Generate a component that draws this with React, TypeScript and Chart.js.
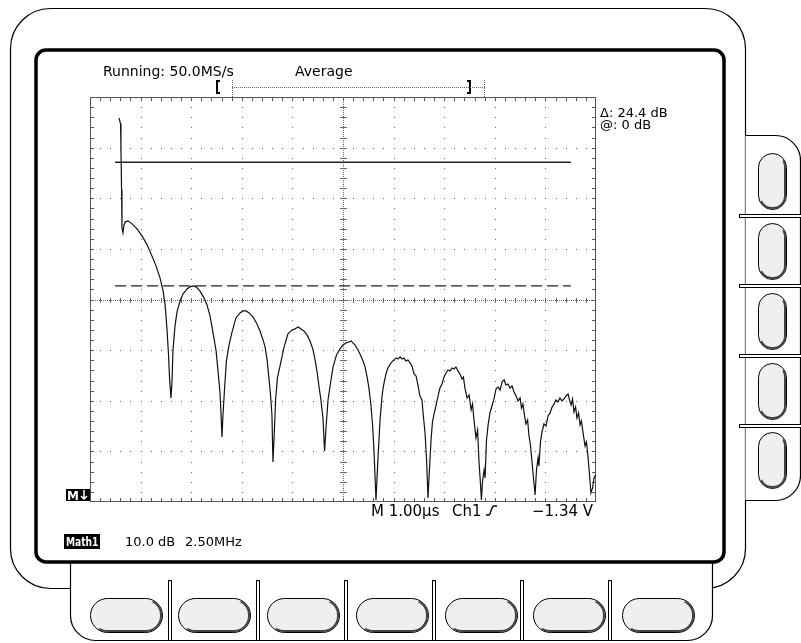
import React, { useEffect, useRef } from "react";
import { Chart, registerables } from "chart.js";

Chart.register(...registerables);

const traceMHz = [
  1.43, 1.51, 1.53, 1.56, 1.58, 1.63, 1.68, 1.75, 1.88, 2.08, 2.32, 2.57, 2.82, 3.06, 3.26, 3.46, 3.61, 3.71, 3.8, 3.88, 3.93, 4.0,
  4.05, 4.1, 4.2, 4.3, 4.45, 4.6, 4.79, 4.94, 5.09, 5.24, 5.43, 5.63, 5.78, 5.93, 6.08, 6.23, 6.32, 6.42, 6.47, 6.52,
  6.57, 6.65, 6.74, 6.87, 7.02, 7.21, 7.41, 7.56, 7.71, 7.86, 8.05, 8.25, 8.4, 8.55, 8.65, 8.75, 8.84, 8.92, 8.99, 9.04,
  9.09, 9.17, 9.26, 9.39, 9.59, 9.78, 9.98, 10.13, 10.28, 10.43, 10.57, 10.72, 10.87, 11.02, 11.12, 11.22, 11.31, 11.41, 11.51, 11.59,
  11.66, 11.76, 11.86, 12.01, 12.18, 12.35, 12.5, 12.65, 12.8, 12.9, 12.99, 13.09, 13.24, 13.34, 13.49, 13.59, 13.69, 13.78, 13.88, 13.96, 14.03, 14.08, 14.13,
  14.18, 14.25, 14.33, 14.43, 14.5, 14.62, 14.72, 14.87, 15.02, 15.12, 15.22, 15.32, 15.42, 15.51, 15.61, 15.71, 15.81, 15.91, 16.01, 16.11, 16.21, 16.3, 16.4, 16.48, 16.55, 16.63, 16.7,
  16.77, 16.85, 16.92, 17.0, 17.1, 17.19, 17.29, 17.39, 17.49, 17.59, 17.69, 17.79, 17.89, 17.99, 18.08, 18.18, 18.28, 18.38, 18.45, 18.53, 18.63, 18.73, 18.83, 18.9, 18.97, 19.07, 19.15, 19.22, 19.29, 19.34,
  19.39, 19.47, 19.52, 19.59, 19.67, 19.76, 19.86, 19.96, 20.06, 20.16, 20.26, 20.36, 20.46, 20.55, 20.65, 20.75, 20.85, 20.95, 21.05, 21.15, 21.25, 21.32, 21.39, 21.47, 21.54, 21.62, 21.69, 21.76, 21.84, 21.91, 21.99,
  22.06, 22.14, 22.18, 22.26, 22.33, 22.43, 22.53, 22.63, 22.73, 22.83, 22.93, 23.02, 23.12, 23.22, 23.32, 23.42, 23.52, 23.62, 23.69, 23.77, 23.84, 23.91, 23.99, 24.06, 24.14, 24.21, 24.28, 24.36, 24.46, 24.53, 24.61, 24.68, 24.75, 24.83, 24.9, 24.98,
];

const traceDb = [
  75.89, 74.7, 69.56, 61.66, 54.15, 53.16, 54.74, 55.34, 55.53, 54.94, 53.95, 52.57, 50.79, 48.62, 46.64, 44.27, 41.7, 38.93, 34.39, 29.05, 24.51, 20.55,
  23.72, 30.04, 34.78, 37.55, 39.72, 41.11, 42.09, 42.49, 42.69, 42.49, 41.7, 40.32, 38.93, 36.76, 33.4, 29.84, 26.09, 21.74, 17.79, 12.85,
  17.19, 22.53, 27.87, 31.03, 33.6, 36.36, 37.35, 37.75, 37.75, 37.35, 36.56, 35.18, 33.79, 32.02, 30.63, 28.06, 24.51, 21.15, 17.19, 7.91,
  12.25, 20.16, 24.51, 26.88, 30.63, 33.2, 33.99, 34.19, 34.59, 34.19, 33.79, 33.0, 31.82, 30.04, 28.06, 25.69, 22.92, 20.16, 16.6, 10.08,
  14.62, 20.16, 22.92, 26.68, 29.05, 30.24, 31.03, 31.42, 31.62, 31.82, 31.42, 31.03, 30.04, 29.25, 27.87, 26.68, 24.7, 22.53, 19.17, 15.22, 10.28, 5.34, 0.4,
  4.74, 10.28, 16.21, 20.95, 22.92, 25.3, 26.48, 27.47, 28.06, 28.46, 28.26, 28.66, 28.26, 28.46, 27.87, 28.06, 27.47, 26.88, 25.3, 24.9, 22.92, 20.95, 20.16, 16.6, 13.83, 8.3, 0.79,
  6.32, 12.25, 15.81, 17.39, 19.17, 20.75, 22.53, 23.32, 24.7, 25.49, 26.09, 25.89, 26.48, 26.28, 26.68, 25.89, 25.3, 24.31, 24.7, 22.33, 20.55, 21.15, 18.18, 19.37, 16.21, 12.65, 14.23, 7.91, 3.75, 0.4,
  3.95, 6.32, 4.74, 12.25, 15.22, 17.59, 18.97, 20.36, 22.33, 22.73, 22.13, 23.72, 24.11, 23.12, 23.32, 22.53, 22.92, 21.74, 20.95, 19.96, 20.55, 18.58, 19.37, 17.0, 15.42, 16.21, 13.04, 11.26, 7.91, 4.74, 1.38,
  6.32, 8.7, 7.11, 12.06, 13.83, 15.42, 15.02, 17.0, 17.59, 18.77, 19.37, 20.16, 19.76, 20.55, 19.96, 20.36, 20.95, 21.34, 20.16, 19.17, 20.36, 17.79, 18.77, 16.6, 17.59, 15.22, 16.01, 13.64, 11.07, 11.86, 8.7, 5.34, 1.78, 2.77, 4.74, 5.34,
];

const cursorLevelsDb = [67.1, 42.7]; // solid, dashed
const cursorSpanMHz = [1.24, 23.76];
const xRangeMHz = [0, 25];
const yRangeDb = [0, 80];
const xDivisionMHz = 2.5;
const yDivisionDb = 10;

const headerLabels = ["Running: 50.0MS/s", "Average"];
const readoutLabels = ["\u0394: 24.4 dB", "@: 0 dB"];
const timebaseLabels = ["M 1.00\u00b5s", "Ch1", "\u22121.34 V"];
const mathLabels = ["Math1", "10.0 dB", "2.50MHz"];

const FONT = '"DejaVu Sans", "Noto Sans", sans-serif';

function pill(ctx: CanvasRenderingContext2D, x: number, y: number, w: number, h: number) {
  const r = Math.min(w, h) / 2;
  ctx.beginPath();
  ctx.roundRect(x + 0.5, y + 0.5, w, h, r);
  ctx.fillStyle = "#efefef";
  ctx.fill();
  ctx.strokeStyle = "#000";
  ctx.lineWidth = 1;
  ctx.stroke();
  // shadow on the bottom-right side
  ctx.save();
  ctx.beginPath();
  ctx.moveTo(x + w + 2, y - 2);
  ctx.lineTo(x + w + 2, y + h + 2);
  ctx.lineTo(x - 2, y + h + 2);
  ctx.closePath();
  ctx.clip();
  ctx.beginPath();
  ctx.roundRect(x + 2, y + 2, w - 3, h - 3, r - 2);
  ctx.strokeStyle = "#444";
  ctx.lineWidth = 2;
  ctx.stroke();
  ctx.restore();
}

const bezelPlugin = {
  id: "bezel",
  beforeDraw(chart: any) {
    const ctx: CanvasRenderingContext2D = chart.ctx;
    ctx.save();
    ctx.fillStyle = "#fff";
    ctx.fillRect(0, 0, chart.width, chart.height);
    ctx.strokeStyle = "#000";
    ctx.lineWidth = 1.2;

    // outer bezel
    ctx.beginPath();
    ctx.roundRect(10.5, 8.5, 735, 580, 40);
    ctx.stroke();

    // bottom button panel
    const bp = () => {
      ctx.beginPath();
      ctx.moveTo(70.5, 560);
      ctx.lineTo(70.5, 615);
      ctx.arcTo(70.5, 640.5, 96, 640.5, 25);
      ctx.lineTo(687, 640.5);
      ctx.arcTo(712.5, 640.5, 712.5, 615, 25);
      ctx.lineTo(712.5, 560);
    };
    bp();
    ctx.closePath();
    ctx.fillStyle = "#fff";
    ctx.fill();
    bp();
    ctx.stroke();
    [168, 256, 344, 432, 520, 608].forEach((x) => {
      ctx.fillStyle = "#fff";
      ctx.fillRect(x, 580, 4, 61);
      ctx.lineWidth = 1;
      ctx.strokeRect(x + 0.5, 580.5, 3, 60);
    });

    // right button panel
    const rp = () => {
      ctx.beginPath();
      ctx.moveTo(745.5, 135.5);
      ctx.lineTo(775, 135.5);
      ctx.arcTo(800.5, 135.5, 800.5, 161, 25);
      ctx.lineTo(800.5, 475);
      ctx.arcTo(800.5, 500.5, 775, 500.5, 25);
      ctx.lineTo(745.5, 500.5);
    };
    rp();
    ctx.closePath();
    ctx.fillStyle = "#fff";
    ctx.fill();
    rp();
    ctx.lineWidth = 1.2;
    ctx.stroke();
    [214, 284, 354, 424].forEach((y) => {
      ctx.fillStyle = "#fff";
      ctx.fillRect(739, y, 62, 4);
      ctx.lineWidth = 1;
      ctx.strokeRect(739.5, y + 0.5, 62, 3);
    });

    // buttons
    [153, 223, 293, 363, 432].forEach((y) => pill(ctx, 758, y, 28, 56));
    [90, 178, 267, 356, 445, 533, 622].forEach((x) => pill(ctx, x, 598, 72, 34));

    // screen
    ctx.beginPath();
    ctx.roundRect(36, 50, 688, 512, 10);
    ctx.fillStyle = "#fff";
    ctx.fill();
    ctx.lineWidth = 3.5;
    ctx.strokeStyle = "#000";
    ctx.stroke();
    ctx.restore();
  },
};

const graticulePlugin = {
  id: "graticule",
  beforeDatasetsDraw(chart: any) {
    const ctx: CanvasRenderingContext2D = chart.ctx;
    const xs = chart.scales.x;
    const ys = chart.scales.y;
    const { left, right, top, bottom } = chart.chartArea;
    const px = (v: number) => Math.round(xs.getPixelForValue(v));
    const py = (v: number) => Math.round(ys.getPixelForValue(v));
    ctx.save();
    ctx.strokeStyle = "#555";
    ctx.lineWidth = 1;
    ctx.strokeRect(Math.round(left) + 0.5, Math.round(top) + 0.5, Math.round(right - left) - 1, Math.round(bottom - top) - 1);

    const xMinor = xDivisionMHz / 5;
    const yMinor = yDivisionDb / 5;
    const nx = Math.round((xRangeMHz[1] - xRangeMHz[0]) / xMinor);
    const ny = Math.round((yRangeDb[1] - yRangeDb[0]) / yMinor);
    const cx = (xRangeMHz[0] + xRangeMHz[1]) / 2;
    const cy = (yRangeDb[0] + yRangeDb[1]) / 2;
    const xc = px(cx);
    const yc = py(cy);

    ctx.fillStyle = "#555";
    // edge ticks
    for (let i = 1; i < nx; i++) {
      const x = px(xRangeMHz[0] + i * xMinor);
      ctx.fillRect(x, Math.round(top), 1, 4);
      ctx.fillRect(x, Math.round(bottom) - 4, 1, 4);
    }
    for (let j = 1; j < ny; j++) {
      const y = py(yRangeDb[0] + j * yMinor);
      ctx.fillRect(Math.round(left), y, 4, 1);
      ctx.fillRect(Math.round(right) - 4, y, 4, 1);
    }
    ctx.fillStyle = "#666";
    // dotted major lines
    for (let k = 1; k < 10; k++) {
      const v = xRangeMHz[0] + k * xDivisionMHz;
      if (Math.abs(v - cx) < 1e-6) continue;
      const x = px(v);
      for (let j = 1; j < ny; j++) ctx.fillRect(x, py(yRangeDb[0] + j * yMinor), 1, 1);
    }
    for (let k = 1; k < 8; k++) {
      const v = yRangeDb[0] + k * yDivisionDb;
      if (Math.abs(v - cy) < 1e-6) continue;
      const y = py(v);
      for (let i = 1; i < nx; i++) ctx.fillRect(px(xRangeMHz[0] + i * xMinor), y, 1, 1);
    }
    // center cross
    ctx.fillStyle = "#666";
    for (let y = Math.round(top) + 1; y < bottom; y += 2) ctx.fillRect(xc, y, 1, 1);
    for (let x = Math.round(left) + 1; x < right; x += 2) ctx.fillRect(x, yc, 1, 1);
    for (let j = 1; j < ny; j++) ctx.fillRect(xc - 3, py(yRangeDb[0] + j * yMinor), 7, 1);
    for (let i = 1; i < nx; i++) ctx.fillRect(px(xRangeMHz[0] + i * xMinor), yc - 2, 1, 5);
    ctx.restore();
  },
};

const textPlugin = {
  id: "screenText",
  afterDraw(chart: any) {
    const ctx: CanvasRenderingContext2D = chart.ctx;
    const { left, right, top, bottom } = chart.chartArea;
    ctx.save();
    ctx.fillStyle = "#000";
    ctx.textBaseline = "alphabetic";
    ctx.font = `14px ${FONT}`;
    ctx.fillText(headerLabels[0], 103, 76);
    ctx.fillText(headerLabels[1], 295, 76);

    // record-view bracket
    ctx.strokeStyle = "#000";
    ctx.lineWidth = 2;
    ctx.beginPath();
    ctx.moveTo(220, 81); ctx.lineTo(217, 81); ctx.lineTo(217, 93); ctx.lineTo(220, 93);
    ctx.moveTo(467, 81); ctx.lineTo(470, 81); ctx.lineTo(470, 93); ctx.lineTo(467, 93);
    ctx.stroke();
    ctx.fillStyle = "#666";
    for (let x = 232; x <= 484; x += 2) ctx.fillRect(x, 87, 1, 1);
    for (let y = 80; y <= 96; y += 2) {
      ctx.fillRect(232, y, 1, 1);
      ctx.fillRect(484, y, 1, 1);
    }

    // cursor readout
    ctx.fillStyle = "#000";
    ctx.font = `13px ${FONT}`;
    ctx.fillText(readoutLabels[0], right + 4, top + 20);
    ctx.fillText(readoutLabels[1], right + 4, top + 32);

    // timebase readout under graticule
    const base = bottom + 14;
    ctx.font = `15px ${FONT}`;
    ctx.fillText(timebaseLabels[0], 371, base);
    ctx.fillText(timebaseLabels[1], 452, base);
    ctx.lineWidth = 1.4;
    ctx.strokeStyle = "#000";
    ctx.beginPath();
    ctx.moveTo(486, base - 1); ctx.lineTo(489, base - 1);
    ctx.bezierCurveTo(491, base - 1, 491, base - 10, 494, base - 10);
    ctx.lineTo(497, base - 10);
    ctx.stroke();
    ctx.textAlign = "right";
    ctx.fillText(timebaseLabels[2], right - 3, base);
    ctx.textAlign = "left";

    // M marker
    ctx.fillStyle = "#000";
    ctx.fillRect(left - 24, bottom - 13, 24, 12);
    ctx.fillStyle = "#fff";
    ctx.font = `bold 12px ${FONT}`;
    ctx.fillText("M", left - 23, bottom - 2);
    ctx.strokeStyle = "#fff";
    ctx.lineWidth = 1.5;
    ctx.beginPath();
    ctx.moveTo(left - 6, bottom - 12); ctx.lineTo(left - 6, bottom - 3);
    ctx.moveTo(left - 9, bottom - 6); ctx.lineTo(left - 6, bottom - 3); ctx.lineTo(left - 3, bottom - 6);
    ctx.stroke();

    // math readout
    ctx.fillStyle = "#000";
    ctx.fillRect(64, 534, 36, 15);
    ctx.fillStyle = "#fff";
    ctx.font = `bold 12px ${FONT}`;
    ctx.save();
    ctx.translate(66, 546);
    ctx.scale(0.76, 1);
    ctx.fillText(mathLabels[0], 0, 0);
    ctx.restore();
    ctx.fillStyle = "#000";
    ctx.font = `13px ${FONT}`;
    ctx.fillText(mathLabels[1], 125, 546);
    ctx.fillText(mathLabels[2], 185, 546);
    ctx.restore();
  },
};

export default function App() {
  const canvasRef = useRef<HTMLCanvasElement | null>(null);

  useEffect(() => {
    document.body.style.margin = "0";
    const canvas = canvasRef.current;
    if (!canvas) return;
    const trace = traceMHz.map((f, i) => ({ x: f, y: traceDb[i] }));
    const chart = new Chart(canvas, {
      type: "line",
      data: {
        datasets: [
          {
            label: "Math1",
            data: trace,
            borderColor: "#111",
            borderWidth: 1.2,
            pointRadius: 0,
            tension: 0,
            fill: false,
          },
          {
            label: "cursor A",
            data: cursorSpanMHz.map((f) => ({ x: f, y: cursorLevelsDb[0] })),
            borderColor: "#222",
            borderWidth: 1.4,
            pointRadius: 0,
          },
          {
            label: "cursor B",
            data: cursorSpanMHz.map((f) => ({ x: f, y: cursorLevelsDb[1] })),
            borderColor: "#222",
            borderWidth: 1.4,
            borderDash: [11, 5],
            pointRadius: 0,
          },
        ],
      },
      options: {
        animation: false,
        responsive: false,
        devicePixelRatio: 1,
        layout: { padding: { left: 90, top: 97, right: 205, bottom: 141 } },
        plugins: { legend: { display: false }, tooltip: { enabled: false } },
        scales: {
          x: { type: "linear", min: xRangeMHz[0], max: xRangeMHz[1], display: false },
          y: { type: "linear", min: yRangeDb[0], max: yRangeDb[1], display: false },
        },
      },
      plugins: [bezelPlugin, graticulePlugin, textPlugin],
    });
    return () => chart.destroy();
  }, []);

  return (
    <canvas
      ref={canvasRef}
      width={801}
      height={643}
      style={{ position: "fixed", left: 0, top: 0, width: 801, height: 643 }}
    />
  );
}
